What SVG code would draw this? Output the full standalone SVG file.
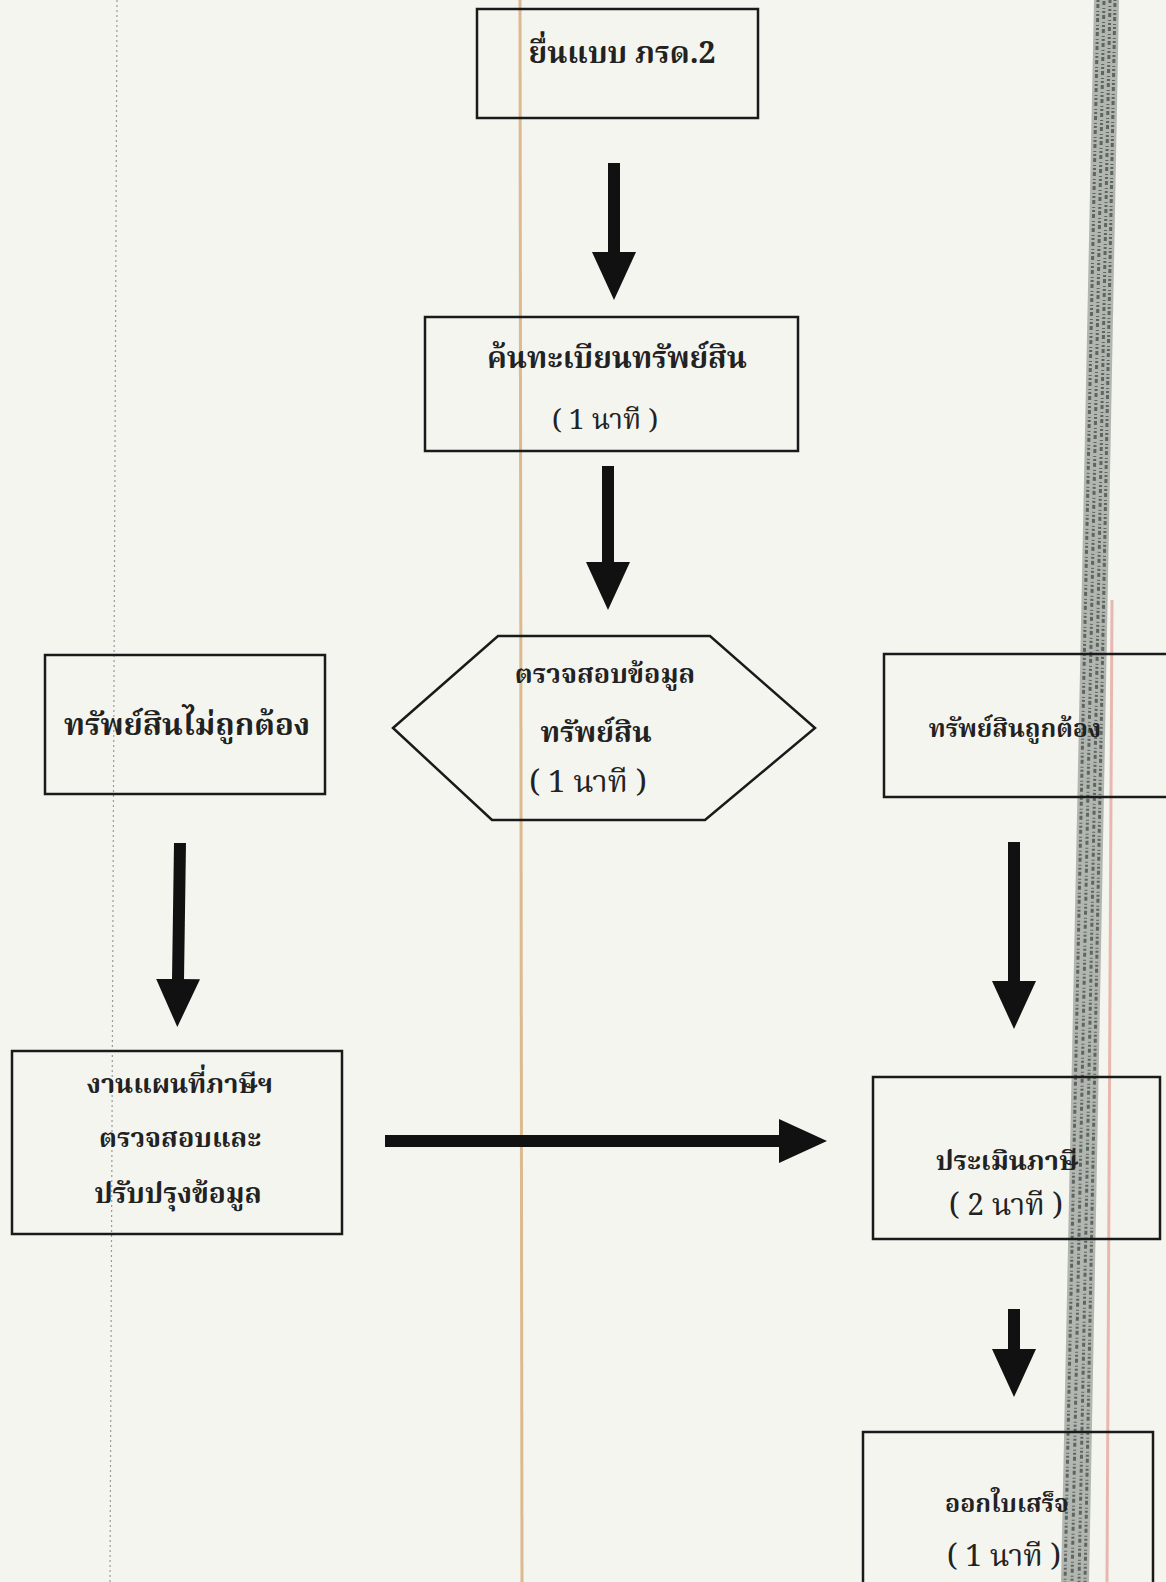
<svg xmlns="http://www.w3.org/2000/svg" width="1166" height="1582" viewBox="0 0 1166 1582">
<style>
.bg{fill:#f4f5ef}
.box{fill:none;stroke:#1a1a1a;stroke-width:2.5}
.t{font-family:"Noto Serif Thai","Norasi","Noto Sans Thai Looped","Laksaman","Loma","Liberation Serif",serif;font-weight:bold;fill:#222;text-anchor:middle;font-size:30px}
.s{font-size:29px;font-weight:normal}
.arr{stroke:#111;stroke-width:12;fill:none;marker-end:url(#ah)}
.noise{stroke:#5f655f;stroke-width:3;stroke-dasharray:2,2,4,3,1,2;fill:none}
</style>
<defs>
<marker id="ah" viewBox="0 0 48 44" markerWidth="48" markerHeight="44" markerUnits="userSpaceOnUse" refX="1" refY="22" orient="auto">
<path d="M0,0 L48,22 L0,44 Z" fill="#111"/>
</marker>
</defs>
<rect class="bg" x="0" y="0" width="1166" height="1582"/>
<g id="scan-marks">
<line x1="520" y1="0" x2="522" y2="1582" stroke="#dcb98e" stroke-width="3"/>
<line x1="117" y1="0" x2="110" y2="1582" stroke="#9a9a9a" stroke-width="1.2" stroke-dasharray="2,3"/>
<polygon points="1094,0 1119,0 1089,1582 1061,1582" fill="#8d938d" opacity="0.65"/>
<line class="noise" x1="1098" y1="0" x2="1065" y2="1582"/>
<line class="noise" x1="1104" y1="0" x2="1072" y2="1582" stroke-dashoffset="3"/>
<line class="noise" x1="1110" y1="0" x2="1079" y2="1582" stroke-dashoffset="5"/>
<line class="noise" x1="1115" y1="0" x2="1085" y2="1582" stroke-dashoffset="1"/>
<line x1="1112" y1="600" x2="1107" y2="1582" stroke="#e8b8b0" stroke-width="3"/>
</g>
<g id="n1"><rect class="box" x="477" y="9" width="281" height="109"/>
<text class="t" x="622" y="63">ยื่นแบบ ภรด.2</text></g>
<g id="n2"><rect class="box" x="425" y="317" width="373" height="134"/>
<text class="t" x="617" y="368">ค้นทะเบียนทรัพย์สิน</text>
<text class="t s" x="605" y="429" style="font-size:28px">( 1 นาที )</text></g>
<g id="n3"><polygon class="box" points="393,728 498,636 710,636 815,728 705,820 492,820"/>
<text class="t" x="605" y="683" style="font-size:27px">ตรวจสอบข้อมูล</text>
<text class="t" x="596" y="742" style="font-size:29px">ทรัพย์สิน</text>
<text class="t s" x="588" y="792" style="font-size:31px">( 1 นาที )</text></g>
<g id="n4"><rect class="box" x="45" y="655" width="280" height="139"/>
<text class="t" x="187" y="735" style="font-size:31px">ทรัพย์สินไม่ถูกต้อง</text></g>
<g id="n5"><rect class="box" x="884" y="654" width="290" height="143"/>
<text class="t" x="1015" y="737" style="font-size:25px">ทรัพย์สินถูกต้อง</text></g>
<g id="n6"><rect class="box" x="12" y="1051" width="330" height="183"/>
<text class="t" x="180" y="1093" style="font-size:27px">งานแผนที่ภาษีฯ</text>
<text class="t" x="180" y="1147" style="font-size:27px">ตรวจสอบและ</text>
<text class="t" x="178" y="1203" style="font-size:28px">ปรับปรุงข้อมูล</text></g>
<g id="n7"><rect class="box" x="873" y="1077" width="287" height="162"/>
<text class="t" x="1007" y="1170" style="font-size:27px">ประเมินภาษี</text>
<text class="t s" x="1006" y="1215" style="font-size:30px">( 2 นาที )</text></g>
<g id="n8"><rect class="box" x="863" y="1432" width="290" height="170"/>
<text class="t" x="1007" y="1512" style="font-size:25px">ออกใบเสร็จ</text>
<text class="t s" x="1004" y="1566" style="font-size:30px">( 1 นาที )</text></g>
<g id="connectors">
<line class="arr" x1="614" y1="163" x2="614" y2="253"/>
<line class="arr" x1="608" y1="466" x2="608" y2="563"/>
<line class="arr" x1="180" y1="843" x2="178" y2="980"/>
<line class="arr" x1="1014" y1="842" x2="1014" y2="982"/>
<line class="arr" x1="385" y1="1141" x2="780" y2="1141"/>
<line class="arr" x1="1014" y1="1309" x2="1014" y2="1350"/>
</g>
</svg>
